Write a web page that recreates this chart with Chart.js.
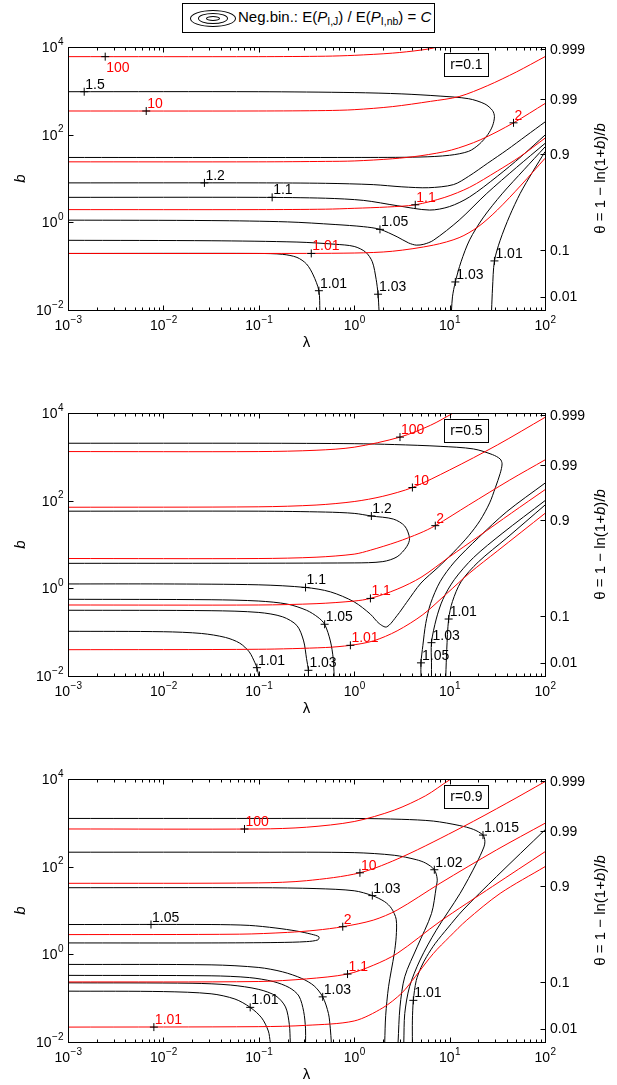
<!DOCTYPE html>
<html>
<head>
<meta charset="utf-8">
<script src="https://cdn.jsdelivr.net/npm/chart.js@4.4.1/dist/chart.umd.min.js"></script>
<style>
  body { margin: 0; background: #fff; width: 617px; height: 1085px; position: relative; overflow: hidden;
         font-family: "Liberation Sans", Arial, Helvetica, sans-serif; }
  canvas { position: absolute; left: 0; }
  #legend { position: absolute; left: 182px; top: 3px; width: 251px; height: 28px; border: 1px solid #000;
            background: #fff; font-size: 15px; }
  #legend .e { position: absolute; border: 1px solid #000; border-radius: 50%; }
  #legend .txt { position: absolute; left: 55px; top: 4px; line-height: 17px; white-space: nowrap; }
  #legend sub { font-size: 10.5px; line-height: 0; vertical-align: -3px; }
</style>
</head>
<body>
<canvas id="c1" width="617" height="366" style="top:0"></canvas>
<canvas id="c2" width="617" height="366" style="top:366px"></canvas>
<canvas id="c3" width="617" height="353" style="top:732px"></canvas>
<div id="legend">
  <div class="e" style="left:7px;top:6px;width:44px;height:15px"></div>
  <div class="e" style="left:15px;top:9px;width:28px;height:9px"></div>
  <div class="e" style="left:23px;top:12px;width:12px;height:3px"></div>
  <span class="txt">Neg.bin.: E(<i>P</i><sub>I,J</sub>) / E(<i>P</i><sub>I,nb</sub>) = <i>C</i></span>
</div>
<script>
const FONT = '"Liberation Sans", Arial, Helvetica, sans-serif'

// all points are [log10(lambda), log10(b)]

// ---- r = 0.1 ----
const p1Red100 = [[-3,3.78],[-1,3.78],[-0.3,3.79],[0,3.81],[0.4,3.86],[0.7,3.93],[0.87,4.0],[1.3,4.35]]
const p1Red10 = [[-3,2.54],[-1,2.54],[-0.3,2.55],[0,2.57],[0.4,2.64],[0.8,2.76],[1.1,2.87],[1.4,3.12],[1.7,3.43],[2,3.78]]
const p1Red2 = [[-3,1.38],[-1,1.38],[-0.3,1.39],[0,1.40],[0.4,1.45],[0.7,1.52],[1.02,1.65],[1.32,1.88],[1.67,2.27],[2,2.71]]
const p1Red11 = [[-3,0.29],[-1,0.29],[-0.3,0.30],[0,0.32],[0.35,0.35],[0.64,0.40],[0.95,0.57],[1.21,0.80],[1.5,1.17],[1.74,1.50],[2,1.92]]
const p1Red101 = [[-3,-0.71],[-1,-0.71],[0,-0.70],[0.4,-0.66],[0.83,-0.52],[1.1,-0.35],[1.3,-0.1],[1.5,0.28],[1.75,0.85],[2,1.46]]
const p1B15 = [[-3,2.98],[-1,2.98],[0,2.96],[0.5,2.93],[0.9,2.88],[1.2,2.82],[1.37,2.70],[1.45,2.55],[1.47,2.41],[1.45,2.2],[1.40,2.0],[1.31,1.78],[1.2,1.62],[1.0,1.53],[0.69,1.49],[0,1.48],[-3,1.48]]
const p1B12 = [[-3,0.90],[-1,0.90],[-0.3,0.89],[0.2,0.86],[0.5,0.81],[0.78,0.79],[1.04,0.86],[1.2,1.05],[1.4,1.35],[1.6,1.65],[1.8,1.97],[2,2.29]]
const p1B11 = [[-3,0.57],[-1,0.57],[-0.3,0.55],[0.1,0.50],[0.45,0.38],[0.79,0.28],[1.0,0.36],[1.21,0.58],[1.5,1.05],[1.75,1.5],[2,1.99]]
const p1B105 = [[-3,0.05],[-1.5,0.04],[-0.7,0.01],[-0.2,-0.05],[0.1,-0.1],[0.27,-0.16],[0.45,-0.33],[0.57,-0.47],[0.65,-0.52],[0.73,-0.50],[0.83,-0.41],[1.1,0.05],[1.39,0.66],[1.7,1.25],[2,1.80]]
const p1B103L = [[-3,-0.41],[-1.5,-0.42],[-0.6,-0.45],[-0.2,-0.50],[0,-0.55],[0.12,-0.68],[0.19,-0.9],[0.23,-1.3],[0.25,-1.64],[0.26,-2.0]]
const p1B101L = [[-3,-0.71],[-1,-0.71],[-0.75,-0.73],[-0.6,-0.80],[-0.5,-0.95],[-0.43,-1.2],[-0.37,-1.56],[-0.36,-2.0]]
const p1B103R = [[1.02,-2],[1.03,-1.7],[1.06,-1.36],[1.12,-0.9],[1.21,-0.4],[1.35,0.1],[1.55,0.65],[1.78,1.2],[2,1.72]]
const p1B101R = [[1.44,-2],[1.45,-1.5],[1.47,-0.88],[1.53,-0.41],[1.63,0.15],[1.74,0.66],[1.87,1.15],[2,1.61]]
const p1RedLabels = [[-2.61,3.78,'100'],[-2.18,2.54,'10'],[1.67,2.27,'2'],[0.64,0.40,'1.1'],[-0.45,-0.71,'1.01']]
const p1BlackLabels = [[-2.83,2.98,'1.5'],[-1.57,0.90,'1.2'],[-0.86,0.57,'1.1'],[0.27,-0.16,'1.05'],
  [-0.37,-1.56,'1.01'],[0.25,-1.64,'1.03'],[1.06,-1.36,'1.03'],[1.47,-0.88,'1.01']]

// ---- r = 0.5 ----
const p2Red100 = [[-3,3.12],[-1,3.12],[-0.4,3.15],[0,3.22],[0.48,3.45],[0.8,3.72],[1.04,4.0],[1.3,4.3]]
const p2Red10 = [[-3,1.85],[-1,1.86],[-0.4,1.90],[0,1.98],[0.3,2.1],[0.61,2.30],[1.0,2.70],[1.5,3.27],[2,3.90]]
const p2Red2 = [[-3,0.68],[-1,0.68],[-0.4,0.71],[0,0.78],[0.17,0.87],[0.45,1.06],[0.69,1.26],[0.85,1.43],[1.2,1.9],[1.63,2.47],[2,2.93]]
const p2Red11 = [[-3,-0.38],[-1,-0.38],[-0.4,-0.35],[0,-0.29],[0.17,-0.23],[0.45,-0.02],[0.7,0.25],[1.0,0.72],[1.3,1.18],[1.65,1.72],[2,2.25]]
const p2Red101 = [[-3,-1.40],[-1,-1.39],[-0.3,-1.35],[-0.04,-1.30],[0.2,-1.2],[0.45,-0.97],[0.72,-0.6],[0.97,-0.12],[1.21,0.35],[1.5,0.85],[2,1.71]]
const p2B11 = [[-3,3.31],[-1,3.31],[0,3.30],[0.42,3.28],[0.9,3.24],[1.25,3.18],[1.45,3.05],[1.53,2.95],[1.55,2.84],[1.53,2.62],[1.48,2.3],[1.42,1.95],[1.32,1.55],[1.2,1.2],[1.04,0.82],[0.88,0.48],[0.70,0.12],[0.55,-0.32],[0.45,-0.62],[0.34,-0.88],[0.26,-0.80],[0.17,-0.59],[0,-0.31],[-0.25,-0.08],[-0.51,0.02],[-1,0.08],[-2,0.10],[-3,0.10]]
const p2B12 = [[-3,1.76],[-1,1.76],[-0.3,1.74],[0,1.71],[0.18,1.65],[0.41,1.58],[0.53,1.42],[0.58,1.14],[0.55,0.95],[0.45,0.72],[0.3,0.61],[0,0.58],[-3,0.57]]
const p2B105L = [[-3,-0.25],[-1.5,-0.26],[-1,-0.29],[-0.7,-0.36],[-0.5,-0.50],[-0.38,-0.66],[-0.31,-0.82],[-0.25,-1.2],[-0.22,-1.6],[-0.21,-2]]
const p2B103L = [[-3,-0.50],[-1.5,-0.51],[-1,-0.55],[-0.75,-0.65],[-0.6,-0.85],[-0.53,-1.2],[-0.50,-1.6],[-0.48,-1.87],[-0.48,-2]]
const p2B101L = [[-3,-0.98],[-2,-0.99],[-1.6,-1.03],[-1.35,-1.12],[-1.2,-1.25],[-1.1,-1.45],[-1.04,-1.7],[-1.02,-1.81],[-1.0,-2]]
const p2B105R = [[0.70,-2],[0.70,-1.7],[0.72,-1.3],[0.75,-0.8],[0.80,-0.35],[0.9,0.15],[1.05,0.6],[1.3,1.15],[1.6,1.75],[2,2.40]]
const p2B103R = [[0.81,-2],[0.81,-1.7],[0.81,-1.24],[0.86,-0.7],[0.93,-0.25],[1.05,0.2],[1.25,0.7],[1.55,1.25],[2,2.0]]
const p2B101R = [[0.96,-2],[0.97,-1.4],[0.99,-0.70],[1.03,-0.3],[1.12,0.15],[1.3,0.6],[1.6,1.15],[2,1.90]]
const p2RedLabels = [[0.48,3.45,'100'],[0.61,2.30,'10'],[0.85,1.43,'2'],[0.17,-0.23,'1.1'],[-0.04,-1.30,'1.01']]
const p2BlackLabels = [[0.18,1.65,'1.2'],[-0.51,0.02,'1.1'],[-0.31,-0.82,'1.05'],[-1.02,-1.81,'1.01'],
  [-0.48,-1.87,'1.03'],[0.70,-1.70,'1.05'],[0.81,-1.24,'1.03'],[0.99,-0.70,'1.01']]

// ---- r = 0.9 ----
const p3Red100 = [[-3,2.86],[-1,2.86],[-0.5,2.90],[0,3.03],[0.42,3.29],[0.75,3.62],[1.0,3.98],[1.3,4.35]]
const p3Red10 = [[-3,1.62],[-1,1.63],[-0.5,1.68],[0.06,1.86],[0.51,2.23],[1.14,2.91],[1.6,3.45],[2,3.94]]
const p3Red2 = [[-3,0.45],[-1.2,0.46],[-0.7,0.50],[-0.4,0.55],[-0.12,0.63],[0.2,0.78],[0.45,1.01],[0.9,1.62],[1.49,2.38],[2,2.99]]
const p3Red11 = [[-3,-0.63],[-1,-0.62],[-0.5,-0.56],[-0.07,-0.45],[0.2,-0.25],[0.45,0.02],[0.9,0.75],[1.45,1.55],[2,2.34]]
const p3Red101 = [[-3,-1.66],[-1,-1.65],[-0.5,-1.62],[0,-1.52],[0.3,-1.22],[0.5,-0.88],[0.64,-0.51],[0.83,0.02],[1.0,0.4],[1.18,0.78],[1.53,1.39],[2,2.0]]
const p3B1015 = [[-3,3.10],[-1,3.10],[0,3.10],[0.5,3.08],[0.83,3.04],[1.1,2.94],[1.25,2.85],[1.35,2.72],[1.37,2.58],[1.36,2.45],[1.28,2.07],[1.11,1.39],[0.86,0.55],[0.69,-0.13],[0.58,-0.74],[0.53,-1.35],[0.52,-2]]
const p3B102 = [[-3,2.33],[-1,2.33],[0,2.32],[0.42,2.26],[0.65,2.16],[0.75,2.08],[0.84,1.93],[0.87,1.72],[0.86,1.54],[0.81,0.93],[0.66,0.17],[0.53,-0.51],[0.48,-1.2],[0.46,-2]]
const p3B103T = [[-3,1.52],[-1,1.52],[-0.4,1.50],[0,1.45],[0.19,1.34],[0.32,1.20],[0.39,1.05],[0.44,0.80],[0.44,0.4],[0.42,0.02],[0.36,-0.74],[0.33,-1.4],[0.32,-2]]
const p3B105 = [[-3,0.68],[-1.5,0.68],[-1.1,0.66],[-0.82,0.60],[-0.6,0.53],[-0.45,0.46],[-0.37,0.40],[-0.38,0.33],[-0.5,0.29],[-0.8,0.27],[-1.5,0.26],[-3,0.26]]
const p3B103L = [[-3,-0.23],[-1.5,-0.24],[-1,-0.30],[-0.75,-0.40],[-0.55,-0.55],[-0.42,-0.72],[-0.33,-0.97],[-0.27,-1.35],[-0.25,-1.7],[-0.24,-2]]
const p3B102L = [[-3,-0.48],[-1.5,-0.49],[-1.1,-0.53],[-0.85,-0.62],[-0.68,-0.76],[-0.58,-0.95],[-0.53,-1.3],[-0.51,-1.7],[-0.51,-2]]
const p3B1015L = [[-3,-0.65],[-1.7,-0.66],[-1.3,-0.70],[-1.0,-0.80],[-0.82,-0.95],[-0.72,-1.2],[-0.68,-1.6],[-0.67,-2]]
const p3B101L = [[-3,-0.84],[-2,-0.85],[-1.5,-0.90],[-1.25,-1.02],[-1.09,-1.21],[-0.97,-1.45],[-0.9,-1.75],[-0.88,-2]]
const p3B101R = [[0.61,-2],[0.61,-1.5],[0.62,-1.05],[0.65,-0.6],[0.70,-0.3],[0.76,-0.05],[0.85,0.25],[0.98,0.6],[1.14,1.01],[1.49,1.77],[2,2.84]]
const p3RedLabels = [[-1.15,2.86,'100'],[0.06,1.86,'10'],[-0.12,0.63,'2'],[-0.07,-0.45,'1.1'],[-2.10,-1.66,'1.01']]
const p3BlackLabels = [[1.35,2.72,'1.015'],[0.84,1.93,'1.02'],[0.19,1.34,'1.03'],[-2.13,0.68,'1.05'],
  [-0.33,-0.97,'1.03'],[-1.09,-1.21,'1.01'],[0.62,-1.05,'1.01']]

// axes
const xPowers = [-3, -2, -1, 0, 1, 2]
const yPowers = [-2, 0, 2, 4]
const thetaTicks = ['0.01', '0.1', '0.9', '0.99', '0.999']

const panels = [
  {canvas: 'c1', title: 'r=0.1', below: ['100'],
   red: [p1Red100, p1Red10, p1Red2, p1Red11, p1Red101],
   black: [p1B15, p1B12, p1B11, p1B105, p1B103L, p1B101L, p1B103R, p1B101R],
   redLabels: p1RedLabels, blackLabels: p1BlackLabels},
  {canvas: 'c2', title: 'r=0.5', below: [],
   red: [p2Red100, p2Red10, p2Red2, p2Red11, p2Red101],
   black: [p2B11, p2B12, p2B105L, p2B103L, p2B101L, p2B105R, p2B103R, p2B101R],
   redLabels: p2RedLabels, blackLabels: p2BlackLabels},
  {canvas: 'c3', title: 'r=0.9', below: [],
   red: [p3Red100, p3Red10, p3Red2, p3Red11, p3Red101],
   black: [p3B1015, p3B102, p3B103T, p3B105, p3B103L, p3B102L, p3B1015L, p3B101L, p3B101R],
   redLabels: p3RedLabels, blackLabels: p3BlackLabels}
]

function toXY(arr) {
    return arr.map(p => ({x: Math.pow(10, p[0]), y: Math.pow(10, p[1])}))
}

// b where theta = 1 - ln(1+b)/b, for placing the right axis ticks
function bForTheta(t) {
    let lo = -6, hi = 6
    for (let i = 0; i < 80; i++) {
        const mid = (lo + hi) / 2
        const b = Math.pow(10, mid)
        const th = 1 - Math.log1p(b) / b
        if (th < t) lo = mid
        else hi = mid
    }
    return Math.pow(10, (lo + hi) / 2)
}

function drawPow(ctx, exp, x, y, align) {
    ctx.font = '14px ' + FONT
    const wb = ctx.measureText('10').width
    ctx.font = '10px ' + FONT
    const we = ctx.measureText(exp).width
    const x0 = align === 'right' ? x - wb - we : x - (wb + we) / 2
    ctx.textAlign = 'left'
    ctx.textBaseline = 'middle'
    ctx.font = '14px ' + FONT
    ctx.fillText('10', x0, y)
    ctx.font = '10px ' + FONT
    ctx.fillText(exp, x0 + wb + 0.5, y - 6)
}

function makeDecor(panel) {
    return {
        id: 'decor',
        afterDatasetsDraw(chart) {
            const ctx = chart.ctx
            const a = chart.chartArea
            const sx = chart.scales.x
            const sy = chart.scales.y
            ctx.save()
            ctx.strokeStyle = '#000'
            ctx.fillStyle = '#000'
            ctx.lineWidth = 1

            const L = Math.round(a.left) + 0.5, R = Math.round(a.right) + 0.5
            const T = Math.round(a.top) + 0.5, B = Math.round(a.bottom) + 0.5
            ctx.strokeRect(L, T, R - L, B - T)

            // x ticks, bottom and top, pointing in
            ctx.beginPath()
            for (let k = -3; k <= 2; k++) {
                for (let m = 1; m <= 9; m++) {
                    if (k === 2 && m > 1) break
                    const px = Math.round(sx.getPixelForValue(m * Math.pow(10, k))) + 0.5
                    const len = m === 1 ? 5 : 3
                    ctx.moveTo(px, B); ctx.lineTo(px, B - len)
                    ctx.moveTo(px, T); ctx.lineTo(px, T + len)
                }
            }
            yPowers.forEach(k => {
                const py = Math.round(sy.getPixelForValue(Math.pow(10, k))) + 0.5
                ctx.moveTo(L, py); ctx.lineTo(L + 5, py)
            })
            thetaTicks.forEach(t => {
                const py = Math.round(sy.getPixelForValue(bForTheta(parseFloat(t)))) + 0.5
                ctx.moveTo(R, py); ctx.lineTo(R - 5, py)
            })
            ctx.stroke()

            // tick labels
            xPowers.forEach(k => {
                const px = sx.getPixelForValue(Math.pow(10, k))
                drawPow(ctx, String(k).replace('-', '\u2212'), px, a.bottom + 16, 'center')
            })
            yPowers.forEach(k => {
                const py = sy.getPixelForValue(Math.pow(10, k))
                drawPow(ctx, String(k).replace('-', '\u2212'), a.left - 5, py + 1, 'right')
            })
            ctx.font = '14px ' + FONT
            ctx.textAlign = 'left'
            ctx.textBaseline = 'middle'
            thetaTicks.forEach(t => {
                const py = sy.getPixelForValue(bForTheta(parseFloat(t)))
                ctx.fillText(t, a.right + 5, py + 1)
            })

            // axis titles
            const midY = (a.top + a.bottom) / 2
            ctx.font = '15px ' + FONT
            ctx.textAlign = 'center'
            ctx.fillText('\u03bb', (a.left + a.right) / 2, a.bottom + 33)

            ctx.save()
            ctx.translate(21, midY)
            ctx.rotate(-Math.PI / 2)
            ctx.font = 'italic 15px ' + FONT
            ctx.fillText('b', 0, 0)
            ctx.restore()

            ctx.save()
            ctx.translate(601, midY)
            ctx.rotate(-Math.PI / 2)
            const parts = [['\u03b8 = 1 \u2212 ln(1+', false], ['b', true], [')/', false], ['b', true]]
            let total = 0
            parts.forEach(p => {
                ctx.font = (p[1] ? 'italic ' : '') + '15px ' + FONT
                total += ctx.measureText(p[0]).width
            })
            let cx = -total / 2
            ctx.textAlign = 'left'
            parts.forEach(p => {
                ctx.font = (p[1] ? 'italic ' : '') + '15px ' + FONT
                ctx.fillText(p[0], cx, 0)
                cx += ctx.measureText(p[0]).width
            })
            ctx.restore()

            // r= box
            ctx.strokeRect(Math.round(a.right) - 100.5, T + 6, 44, 23)
            ctx.font = '14px ' + FONT
            ctx.textAlign = 'center'
            ctx.textBaseline = 'middle'
            ctx.fillText(panel.title, Math.round(a.right) - 78.5, T + 18)

            // contour labels
            ctx.font = '14px ' + FONT
            ctx.textAlign = 'left'
            const put = (lab, color) => {
                const px = sx.getPixelForValue(Math.pow(10, lab[0]))
                const py = sy.getPixelForValue(Math.pow(10, lab[1]))
                ctx.fillStyle = color
                if (color !== '#000' && panel.below.indexOf(lab[2]) >= 0) {
                    ctx.textBaseline = 'top'
                    ctx.fillText(lab[2], px + 1, py + 4)
                } else {
                    ctx.textBaseline = 'alphabetic'
                    ctx.fillText(lab[2], px + 1, py - 3)
                }
            }
            panel.redLabels.forEach(l => put(l, '#ff0000'))
            panel.blackLabels.forEach(l => put(l, '#000'))
            ctx.restore()
        }
    }
}

function buildDatasets(panel) {
    const ds = []
    ds.push({
        type: 'scatter',
        data: toXY(panel.redLabels.concat(panel.blackLabels)),
        pointStyle: 'cross', pointRadius: 4, borderColor: '#000', borderWidth: 1,
        order: 0
    })
    panel.red.forEach(c => ds.push({
        data: toXY(c), borderColor: '#ff0000', borderWidth: 1, pointRadius: 0,
        tension: 0.3, fill: false, order: 1
    }))
    panel.black.forEach(c => ds.push({
        data: toXY(c), borderColor: '#000', borderWidth: 1, pointRadius: 0,
        tension: 0.3, fill: false, order: 2
    }))
    return ds
}

panels.forEach(panel => {
    const canvas = document.getElementById(panel.canvas)
    const h = canvas.height
    new Chart(canvas, {
        type: 'line',
        data: {datasets: buildDatasets(panel)},
        options: {
            responsive: false,
            animation: false,
            devicePixelRatio: 1,
            layout: {padding: {left: 68, right: 72, top: 47, bottom: h - 310}},
            plugins: {legend: {display: false}, tooltip: {enabled: false}},
            events: [],
            scales: {
                x: {type: 'logarithmic', min: 1e-3, max: 1e2, display: false},
                y: {type: 'logarithmic', min: 1e-2, max: 1e4, display: false}
            }
        },
        plugins: [makeDecor(panel)]
    })
})
</script>
</body>
</html>
